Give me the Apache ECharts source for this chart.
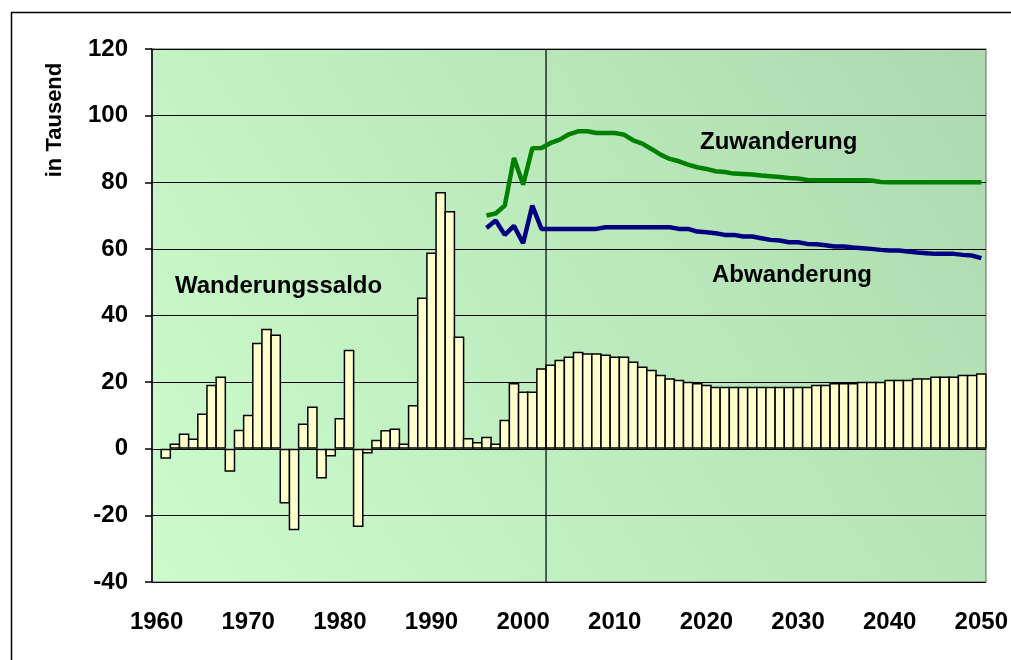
<!DOCTYPE html>
<html>
<head>
<meta charset="utf-8">
<script src="https://cdn.jsdelivr.net/npm/echarts@6/dist/echarts.min.js"></script>
<style>
  html, body { margin: 0; padding: 0; background: #fff; }
  #chart { width: 1011px; height: 660px; }
</style>
</head>
<body>
<div id="chart"></div>
<script>
// Jahre 1960..2050 (Kategorien)
const years = [];
for (let y = 1960; y <= 2050; y++) years.push(String(y));

// Wanderungssaldo in Tausend, 1960..2050 (1960 ohne Wert)
const saldo = [
  null, -3, 1.6, 4.6, 3.1, 10.6, 19.2, 21.7, -6.9, 5.7,
  10.2, 31.8, 36, 34.3, -16.4, -24.5, 7.6, 12.7, -8.9, -2.3,
  9.2, 29.7, -23.5, -1.4, 2.7, 5.6, 6.1, 1.6, 13.1, 45.4,
  58.9, 77.1, 71.4, 33.7, 3.2, 2, 3.6, 1.6, 8.7, 19.7,
  17.2, 17.2, 24.2, 25.3, 26.7, 27.7, 29.1, 28.7, 28.7, 28.3,
  27.7, 27.7, 26.2, 24.7, 23.7, 22.2, 21.2, 20.7, 20.1, 19.7,
  19.2, 18.6, 18.6, 18.6, 18.6, 18.6, 18.6, 18.6, 18.6, 18.6,
  18.6, 18.6, 19.2, 19.2, 19.7, 19.7, 19.7, 20.1, 20.1, 20.1,
  20.7, 20.7, 20.7, 21.2, 21.2, 21.7, 21.7, 21.7, 22.2, 22.2,
  22.7
];

// Zu- und Abwanderung ab 1996
const lineStart = "1996";
const zuwanderung = [
  70, 70.6, 73, 87.3, 79.3, 90.2, 90.3, 91.8, 92.8, 94.4,
  95.3, 95.3, 94.8, 94.8, 94.8, 94.3, 92.6, 91.6, 90, 88.3,
  87, 86.3, 85.3, 84.5, 84, 83.3, 83.1, 82.6, 82.5, 82.3,
  82, 81.8, 81.6, 81.3, 81.1, 80.7, 80.6, 80.6, 80.6, 80.6,
  80.6, 80.6, 80.5, 80.1, 80, 80, 80, 80, 80, 80,
  80, 80, 80, 80, 80
];
const abwanderung = [
  66.3, 68.5, 64.2, 66.9, 61.7, 73, 66, 66, 66, 66,
  66, 66, 66, 66.5, 66.5, 66.5, 66.5, 66.5, 66.5, 66.5,
  66.5, 66, 66, 65.2, 65, 64.7, 64.2, 64.2, 63.7, 63.7,
  63.2, 62.7, 62.5, 62, 62, 61.5, 61.4, 61.1, 60.7, 60.7,
  60.4, 60.2, 60, 59.7, 59.5, 59.5, 59.2, 58.9, 58.7, 58.5,
  58.5, 58.5, 58.2, 58, 57.2
];

// Trennlinie zwischen 2002 und 2003
const splitYear = "2003";

const yTicks = { min: -40, max: 120, step: 20 };

const pad = years.indexOf(lineStart);
const zuData = new Array(pad).fill(null).concat(zuwanderung);
const abData = new Array(pad).fill(null).concat(abwanderung);
const splitIdx = years.indexOf(splitYear);

const FONT = "'Liberation Sans', Arial, sans-serif";
const W = 1011, GL = 152, GR = 23;
const band = (W - GL - GR) / years.length;

const chart = echarts.init(document.getElementById("chart"));
chart.setOption({
  animation: false,
  backgroundColor: "#fff",
  grid: {
    left: GL, top: 49, right: GR, bottom: 78,
    show: true,
    borderColor: "#8a8a8a",
    borderWidth: 1.5,
    backgroundColor: new echarts.graphic.LinearGradient(0, 1, 1, 0, [
      {offset: 0, color: "#ccfccc"},
      {offset: 1, color: "#acdaae"}
    ])
  },
  graphic: [
    {type: "rect", left: 9, top: 10, shape: {width: 1100, height: 700},
     style: {fill: "none", stroke: "#000", lineWidth: 1.5}, z: -1},
    // Achsentitel oben links, gedreht
    {type: "text", x: 55, y: 120, rotation: Math.PI / 2,
     style: {text: "in Tausend", font: "bold 22px " + FONT, fill: "#000",
             align: "center", verticalAlign: "middle"}},
    {type: "text", left: 175, top: 274,
     style: {text: "Wanderungssaldo", font: "bold 24px " + FONT, fill: "#000"}},
    {type: "text", left: 700, top: 130,
     style: {text: "Zuwanderung", font: "bold 24px " + FONT, fill: "#000"}},
    {type: "text", left: 712, top: 263,
     style: {text: "Abwanderung", font: "bold 24px " + FONT, fill: "#000"}}
  ],
  xAxis: [{
    type: "category",
    data: years,
    boundaryGap: true,
    axisLine: {show: false, onZero: false},
    axisTick: {show: false},
    splitLine: {show: false},
    axisLabel: {
      interval: 9,
      margin: 28,
      color: "#000",
      fontFamily: FONT,
      fontWeight: "bold",
      fontSize: 24
    }
  }, {
    type: "value",
    min: 0,
    max: years.length,
    show: false
  }],
  yAxis: {
    type: "value",
    min: yTicks.min,
    max: yTicks.max,
    interval: yTicks.step,
    axisLine: {show: true, lineStyle: {color: "#000", width: 1.5}},
    axisTick: {show: true, inside: false, length: 7, lineStyle: {color: "#000", width: 1.5}},
    splitLine: {show: true, lineStyle: {color: "#000", width: 1.2}},
    axisLabel: {
      margin: 24,
      color: "#000",
      fontFamily: FONT,
      fontWeight: "bold",
      fontSize: 24
    }
  },
  series: [
    {
      name: "Wanderungssaldo",
      type: "bar",
      data: saldo,
      barWidth: band + 1.5,
      barGap: "0%",
      itemStyle: {color: "#ffffcc", borderColor: "#000", borderWidth: 1.5}
    },
    {
      name: "Trennlinie",
      type: "line",
      xAxisIndex: 1,
      data: [[splitIdx, yTicks.min], [splitIdx, yTicks.max]],
      symbol: "none",
      lineStyle: {color: "#000", width: 1.2},
      z: 3
    },
    {
      name: "Abwanderung",
      type: "line",
      data: abData,
      symbol: "none",
      connectNulls: false,
      lineStyle: {color: "#000080", width: 4.5},
      z: 4
    },
    {
      name: "Zuwanderung",
      type: "line",
      data: zuData,
      symbol: "none",
      connectNulls: false,
      lineStyle: {color: "#008000", width: 4.5},
      z: 4
    }
  ]
});
</script>
</body>
</html>
